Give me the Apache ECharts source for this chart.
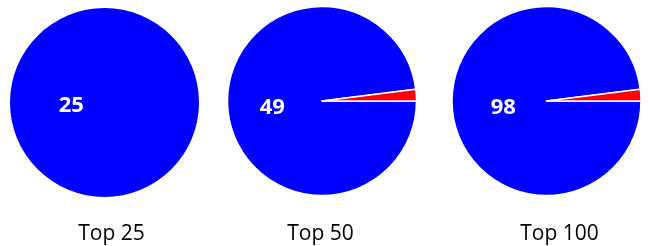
<!DOCTYPE html>
<html>
<head>
<meta charset="utf-8">
<script src="https://cdn.jsdelivr.net/npm/echarts@6/dist/echarts.min.js"></script>
<style>
html,body{margin:0;padding:0;background:#fff;}
#main{width:649px;height:246px;}
</style>
</head>
<body>
<div id="main"></div>
<script>
var categories = ['Top 25', 'Top 50', 'Top 100'];
var hitValues = [25, 49, 98];
var missValues = [0, 1, 2];

var centers = [[104.5, 102.5], [322, 101], [546.5, 101]];
var labelOffsets = [[17, 3], [0.5, 4], [7, 4]];
var titleX = [111.5, 320.5, 559.5];

var myChart = echarts.init(document.getElementById('main'));

var series = [];
var titles = [];
for (var i = 0; i < categories.length; i++) {
    series.push({
        type: 'pie',
        center: centers[i],
        radius: 94.5,
        startAngle: 0,
        clockwise: true,
        silent: true,
        animation: false,
        // no white edge when there is only one slice
        itemStyle: {borderColor: '#fff', borderWidth: missValues[i] > 0 ? 1.5 : 0},
        label: {
            show: true,
            position: 'inside',
            formatter: '{c}',
            color: '#fff',
            fontWeight: 'bold',
            fontSize: 22,
            fontFamily: 'Open Sans',
            offset: labelOffsets[i]
        },
        labelLine: {show: false},
        data: [
            {value: hitValues[i], name: 'in', itemStyle: {color: '#0000ff'}},
            {value: missValues[i], name: 'out', itemStyle: {color: '#ff0000'}, label: {show: false}}
        ]
    });
    titles.push({
        text: categories[i],
        left: titleX[i],
        top: 224,
        padding: 0,
        textAlign: 'center',
        textStyle: {fontFamily: 'Open Sans', fontSize: 21, fontWeight: 'normal', color: '#000'}
    });
}

var option = {
    backgroundColor: '#fff',
    title: titles,
    series: series
};
myChart.setOption(option, true);
</script>
</body>
</html>
